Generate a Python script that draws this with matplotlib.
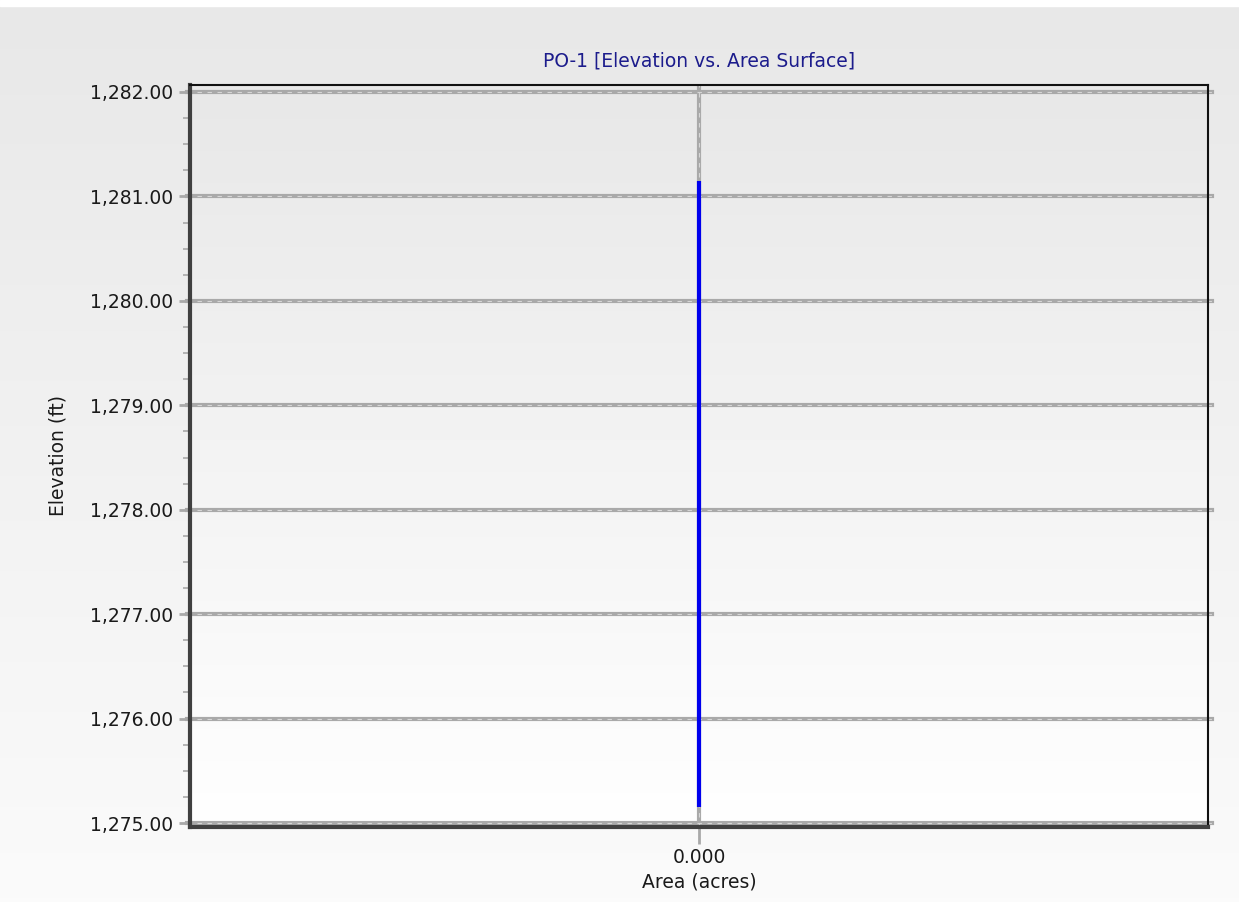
import numpy as np
import matplotlib.pyplot as plt
from matplotlib.colors import LinearSegmentedColormap
from matplotlib.ticker import FuncFormatter, MultipleLocator

# data
area = [0.0, 0.0]
elevation = [1275.15, 1281.15]
y_ticks = [1275, 1276, 1277, 1278, 1279, 1280, 1281, 1282]
x_ticks = [0.0]

title = "PO-1 [Elevation vs. Area Surface]"
xlabel = "Area (acres)"
ylabel = "Elevation (ft)"

plt.rcParams["font.family"] = ["DejaVu Sans"]
FS = 13.5
TXT = "#1a1a1a"

fig = plt.figure(figsize=(12.39, 9.02), dpi=100)

# figure background gradient
bg = fig.add_axes([0, 0, 1, 1], zorder=-10)
grad = np.linspace(0, 1, 256).reshape(-1, 1)
bg.imshow(grad, aspect="auto", cmap=LinearSegmentedColormap.from_list(
    "bg", ["#e8e8e8", "#fbfbfb"]), extent=[0, 1, 0, 1], origin="upper")
bg.add_patch(plt.Rectangle((0, 1 - 6 / 902), 1, 6 / 902, color="white"))
bg.set_xlim(0, 1)
bg.set_ylim(0, 1)
bg.axis("off")

ax = fig.add_axes([190 / 1239, 1 - 827 / 902, (1208 - 190) / 1239, (827 - 85) / 902])
ax.set_xlim(-1, 1)
ax.set_ylim(1274.962, 1282.067)

# plot area background gradient
ax.imshow(grad, aspect="auto", cmap=LinearSegmentedColormap.from_list(
    "ax", ["#e8e8e8", "#ffffff"]), extent=[-1, 1, 1274.962, 1282.067],
    origin="upper", zorder=0)

# grid lines: solid gray with light dashes on top
for y in y_ticks:
    ax.axhline(y, xmin=-0.003, xmax=1.004, color="#a9a9a9", lw=3, clip_on=False, zorder=1)
    ax.axhline(y, xmin=-0.003, xmax=1.004, color="#d6d6d6", lw=0.8,
               dashes=(4, 5), clip_on=False, zorder=1.1)
for x in x_ticks:
    ax.axvline(x, color="#a9a9a9", lw=3, zorder=1)
    ax.axvline(x, color="#d6d6d6", lw=0.8, dashes=(4, 5), zorder=1.1)

ax.plot(area, elevation, color="#0000ee", lw=3, zorder=3, solid_capstyle="butt")

ax.set_yticks(y_ticks)
ax.yaxis.set_minor_locator(MultipleLocator(0.25))
ax.yaxis.set_major_formatter(FuncFormatter(lambda v, p: f"{v:,.2f}"))
ax.set_xticks(x_ticks)
ax.xaxis.set_major_formatter(FuncFormatter(lambda v, p: f"{v:.3f}"))

ax.tick_params(axis="y", which="major", length=8, width=2, color="#a9a9a9",
               labelsize=FS, pad=4, labelcolor=TXT)
ax.tick_params(axis="y", which="minor", length=5, width=1.2, color="#a9a9a9")
ax.tick_params(axis="x", which="major", length=12, width=2, color="#a9a9a9",
               labelsize=FS, pad=3, labelcolor=TXT)

for side in ["left", "bottom"]:
    ax.spines[side].set_color("#404040")
    ax.spines[side].set_linewidth(3)
for side in ["top", "right"]:
    ax.spines[side].set_color("#111111")
    ax.spines[side].set_linewidth(1.5)

ax.set_xlabel(xlabel, fontsize=FS, color=TXT, labelpad=4)
ax.set_ylabel(ylabel, fontsize=FS, color=TXT, labelpad=16)
ax.set_title(title, fontsize=FS, color="#1c1c8c", pad=13)

fig.savefig("out.png", dpi=100)
